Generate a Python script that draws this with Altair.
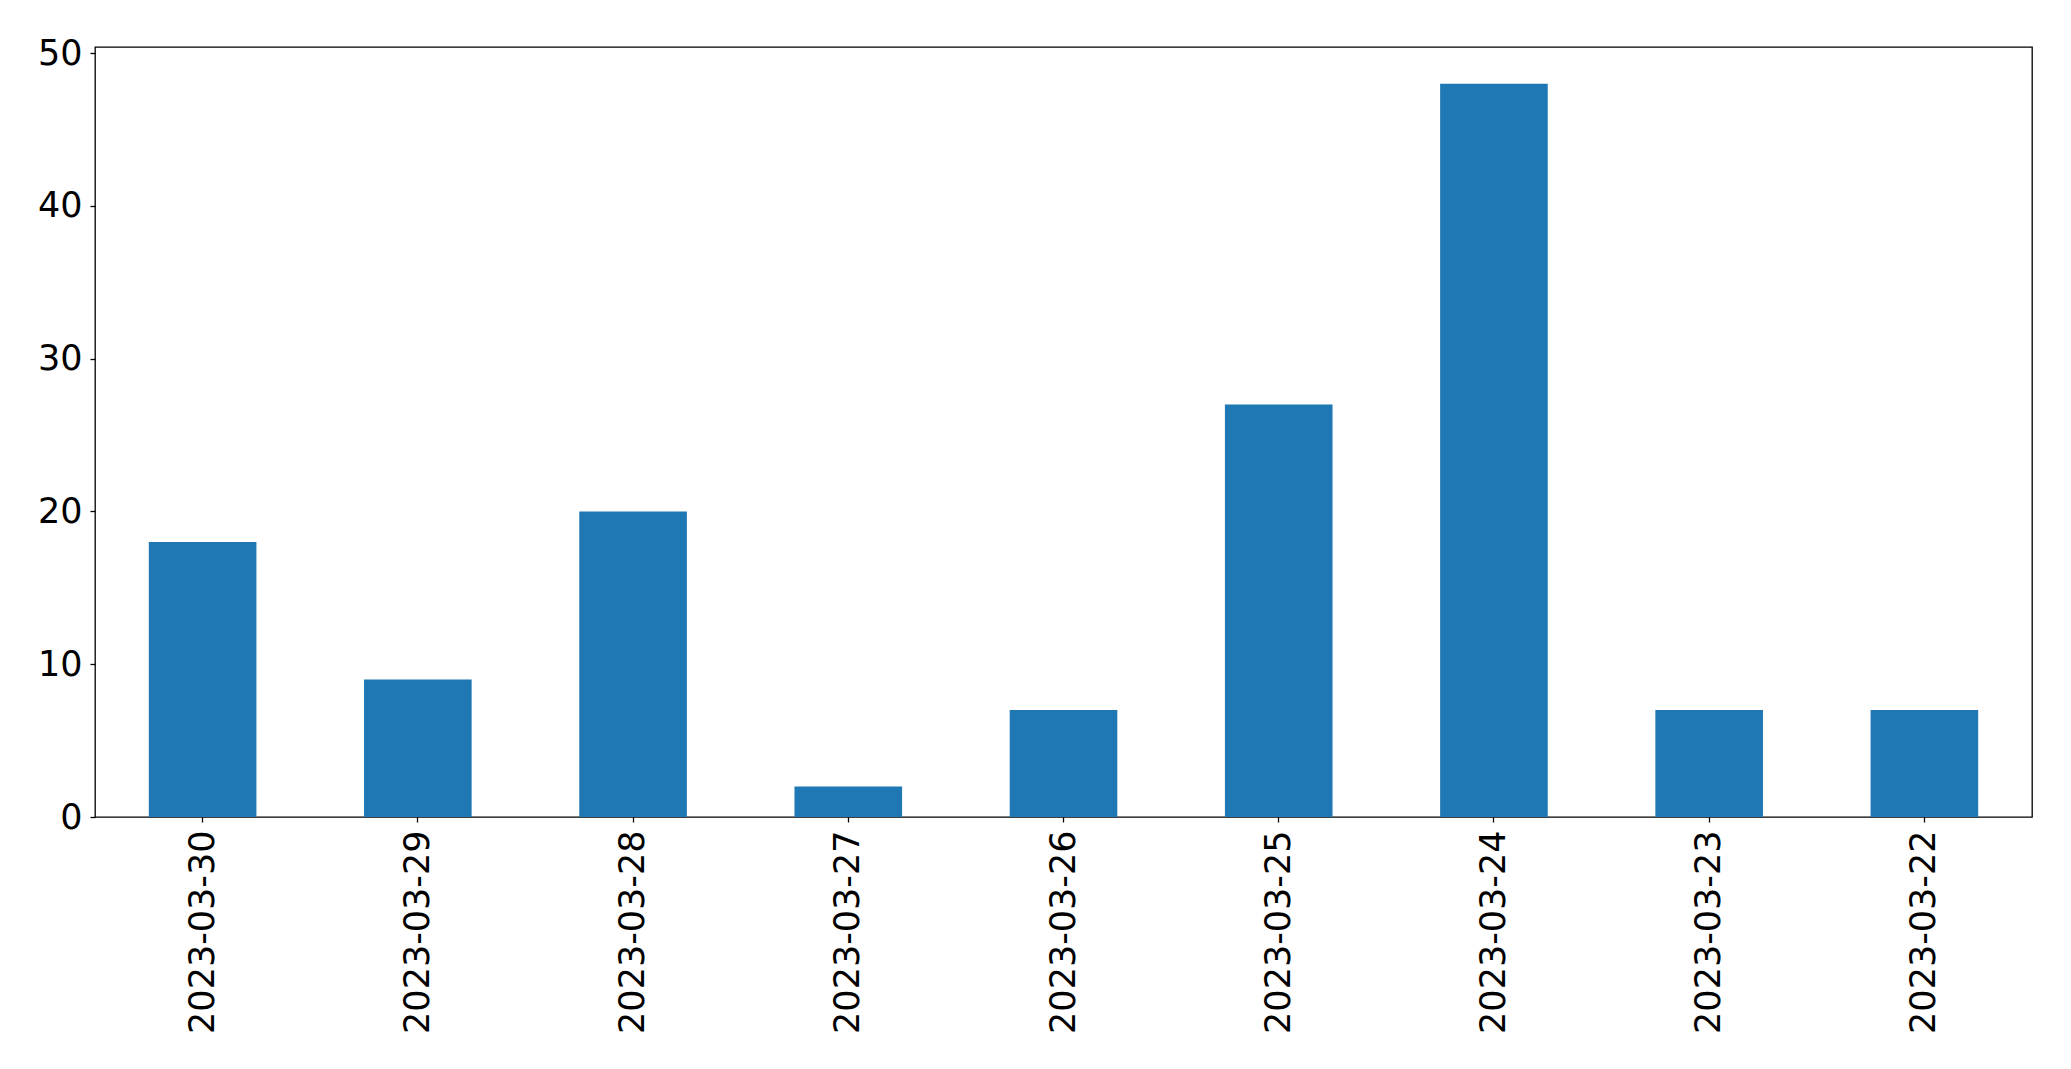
import altair as alt
import pandas as pd

dates = ["2023-03-30", "2023-03-29", "2023-03-28", "2023-03-27", "2023-03-26",
         "2023-03-25", "2023-03-24", "2023-03-23", "2023-03-22"]
counts = [18, 9, 20, 2, 7, 27, 48, 7, 7]
y_ticks = [0, 10, 20, 30, 40, 50]

df = pd.DataFrame({"date": dates, "count": counts})

chart = alt.Chart(df).mark_bar(color="#1f77b4").encode(
    x=alt.X("date:N", sort=dates,
            scale=alt.Scale(paddingInner=0.5, paddingOuter=0.25),
            axis=alt.Axis(title=None, labelAngle=270, labelAlign="right",
                          labelBaseline="middle", labelPadding=8, tickSize=5,
                          domain=False, labelFontSize=35, labelFont="DejaVu Sans",
                          labelColor="black", tickColor="black", tickWidth=1.3,
                          labelLimit=0)),
    y=alt.Y("count:Q", scale=alt.Scale(domain=[0, 50.4], nice=False, zero=True),
            axis=alt.Axis(title=None, values=y_ticks, tickSize=5, labelPadding=8,
                          domain=False, grid=False, labelFontSize=35,
                          labelFont="DejaVu Sans", labelColor="black",
                          tickColor="black", tickWidth=1.3, labelFlush=False)),
).properties(
    width=1937, height=770,
    autosize=alt.AutoSizeParams(type="none"),
    padding={"left": 87, "top": 39, "right": 30, "bottom": 240},
).configure_view(stroke="black", strokeWidth=1.3)

chart.save("out.html", embed_options={"renderer": "svg", "actions": False})
